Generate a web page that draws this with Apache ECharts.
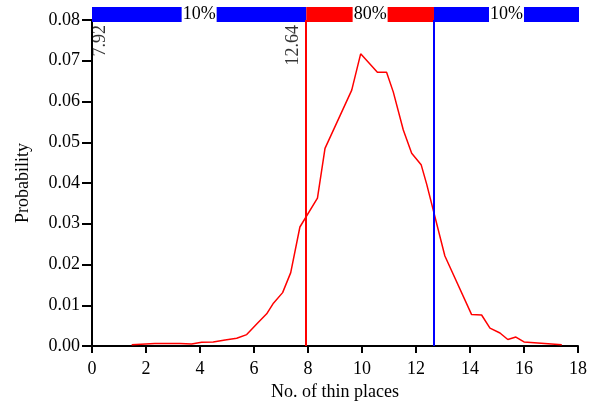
<!DOCTYPE html>
<html>
<head>
<meta charset="utf-8">
<script src="https://cdn.jsdelivr.net/npm/echarts@6/dist/echarts.min.js"></script>
<style>
  html, body { margin: 0; padding: 0; background: #fff; }
  #chart { width: 590px; height: 406px; }
</style>
</head>
<body>
<div id="chart"></div>
<script>
// Distribution of the number of thin places
const thinPlaces = [1.47, 2.33, 3.26, 3.69, 4.06, 4.49, 4.93, 5.36, 5.73, 6.10, 6.47, 6.72, 7.06, 7.36, 7.70,
  8.35, 8.63, 9.62, 9.95, 10.57, 10.91, 11.16, 11.53, 11.84, 12.19, 12.40, 13.07, 14.06, 14.43, 14.74,
  15.11, 15.40, 15.70, 16.00, 17.40];
const probability = [0.0003, 0.0006, 0.0006, 0.0005, 0.0009, 0.0010, 0.0015, 0.0019, 0.0028, 0.0054, 0.0079,
  0.0105, 0.0131, 0.0180, 0.0292, 0.0363, 0.0485, 0.0628, 0.0717, 0.0672, 0.0672, 0.0623, 0.0530, 0.0473,
  0.0445, 0.0396, 0.0221, 0.0077, 0.0076, 0.0044, 0.0032, 0.0016, 0.0022, 0.0010, 0.0003];

// 10% / 80% / 10% interval bounds
const lowerBound = 7.92;
const upperBound = 12.64;
const bandLabels = ['10%', '80%', '10%'];
const boundLabels = ['7.92', '12.64'];
const xMin = 0, xMax = 18;
const yMin = 0, yMax = 0.08;

const FONT = 'Liberation Serif';
const axisLine = { show: true, lineStyle: { color: '#000', width: 2 } };

const chart = echarts.init(document.getElementById('chart'));
chart.setOption({
  animation: false,
  grid: [
    { left: 92, right: 12, top: 20, bottom: 57 },
    { left: 92, right: 11, top: 7, height: 15 }
  ],
  xAxis: [
    {
      gridIndex: 0, type: 'value', min: xMin, max: xMax, interval: 2,
      name: 'No. of thin places', nameLocation: 'middle', nameGap: 37,
      nameTextStyle: { fontFamily: FONT, fontSize: 18, color: '#000' },
      axisLine: axisLine,
      axisTick: { show: true, inside: false, length: 7, lineStyle: { color: '#000', width: 2 } },
      axisLabel: { fontFamily: FONT, fontSize: 18, color: '#000', margin: 14 },
      splitLine: { show: false }
    },
    { gridIndex: 1, type: 'value', min: xMin, max: xMax, show: false }
  ],
  yAxis: [
    {
      gridIndex: 0, type: 'value', min: yMin, max: yMax, interval: 0.01,
      name: 'Probability', nameLocation: 'middle', nameGap: 60, nameRotate: 90,
      nameTextStyle: { fontFamily: FONT, fontSize: 18, color: '#000' },
      axisLine: axisLine,
      axisTick: { show: true, inside: false, length: 10, lineStyle: { color: '#000', width: 2 } },
      axisLabel: { fontFamily: FONT, fontSize: 18, color: '#000', margin: 12,
        formatter: v => v.toFixed(2) },
      splitLine: { show: false }
    },
    { gridIndex: 1, type: 'value', min: 0, max: 1, show: false }
  ],
  series: [
    {
      name: 'probability', type: 'line', xAxisIndex: 0, yAxisIndex: 0,
      data: thinPlaces.map((x, i) => [x, probability[i]]),
      showSymbol: false, symbol: 'none',
      lineStyle: { color: '#ff0000', width: 1.5 },
      markLine: {
        silent: true, symbol: 'none', label: { show: false },
        data: [
          [{ coord: [lowerBound, yMin], lineStyle: { color: '#ff0000', width: 2, type: 'solid' } },
           { coord: [lowerBound, yMax] }],
          [{ coord: [upperBound, yMin], lineStyle: { color: '#0000ff', width: 2, type: 'solid' } },
           { coord: [upperBound, yMax] }]
        ]
      },
      z: 3
    },
    {
      name: 'bound labels', type: 'scatter', xAxisIndex: 0, yAxisIndex: 0,
      symbolSize: 0, silent: true,
      data: [
        { value: [xMin, yMax], label: { position: [8, 5] } },
        { value: [lowerBound, yMax], label: { position: [-13, 5] } }
      ].map((d, i) => ({ ...d, name: boundLabels[i] })),
      label: {
        show: true, rotate: 90, align: 'right', verticalAlign: 'middle',
        formatter: p => p.name,
        fontFamily: FONT, fontSize: 18, color: '#000'
      },
      z: 4
    },
    {
      name: 'bands', type: 'line', xAxisIndex: 1, yAxisIndex: 1, data: [], z: 5,
      markArea: {
        silent: true,
        label: {
          show: true, position: 'inside', color: '#000',
          fontFamily: FONT, fontSize: 18, lineHeight: 15,
          backgroundColor: '#fff', padding: [0, 1]
        },
        data: [
          [{ name: bandLabels[0], xAxis: xMin, yAxis: 0, itemStyle: { color: '#0000ff', opacity: 1 } },
           { xAxis: lowerBound, yAxis: 1 }],
          [{ name: bandLabels[1], xAxis: lowerBound, yAxis: 0, itemStyle: { color: '#ff0000', opacity: 1 } },
           { xAxis: upperBound, yAxis: 1 }],
          [{ name: bandLabels[2], xAxis: upperBound, yAxis: 0, itemStyle: { color: '#0000ff', opacity: 1 } },
           { xAxis: xMax, yAxis: 1 }]
        ]
      }
    }
  ]
});
</script>
</body>
</html>
